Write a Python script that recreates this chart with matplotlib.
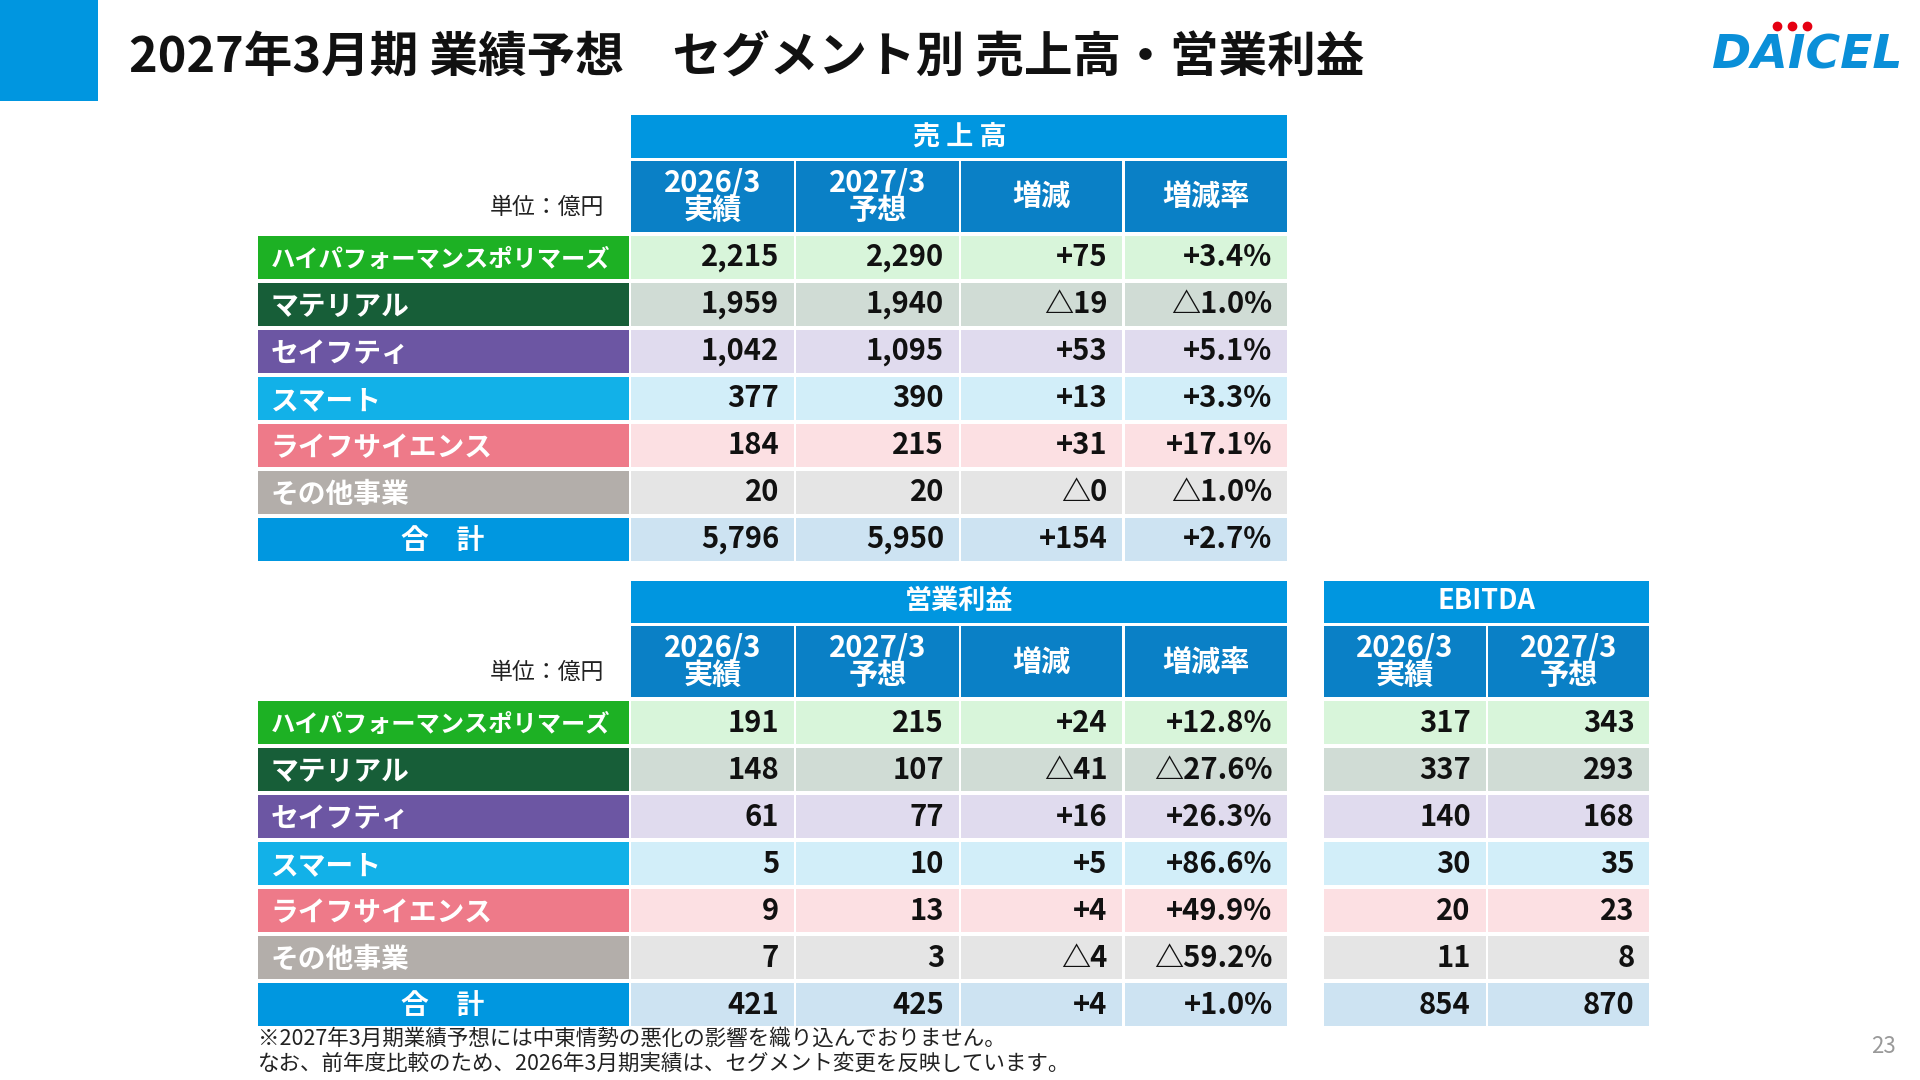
import matplotlib
matplotlib.use('Agg')
import matplotlib.pyplot as plt
from matplotlib.patches import Rectangle

plt.rcParams['font.family'] = ['Noto Sans CJK JP', 'DejaVu Sans']

# data
segments = ['ハイパフォーマンスポリマーズ', 'マテリアル', 'セイフティ', 'スマート',
            'ライフサイエンス', 'その他事業', '合　計']
sales_prev = ['2,215', '1,959', '1,042', '377', '184', '20', '5,796']
sales_fcst = ['2,290', '1,940', '1,095', '390', '215', '20', '5,950']
sales_diff = ['+75', '△19', '+53', '+13', '+31', '△0', '+154']
sales_rate = ['+3.4%', '△1.0%', '+5.1%', '+3.3%', '+17.1%', '△1.0%', '+2.7%']
op_prev = ['191', '148', '61', '5', '9', '7', '421']
op_fcst = ['215', '107', '77', '10', '13', '3', '425']
op_diff = ['+24', '△41', '+16', '+5', '+4', '△4', '+4']
op_rate = ['+12.8%', '△27.6%', '+26.3%', '+86.6%', '+49.9%', '△59.2%', '+1.0%']
ebitda_prev = ['317', '337', '140', '30', '20', '11', '854']
ebitda_fcst = ['343', '293', '168', '35', '23', '8', '870']

label_colors = ['#1db124', '#175e38', '#6c56a3', '#12b1e8', '#ee7a89', '#b3aeaa', '#0097e0']
cell_colors = ['#d8f5da', '#d0dcd5', '#e0dbee', '#d2eef9', '#fce0e3', '#e5e5e5', '#cde3f2']
HDR = '#0096e0'
SUB = '#0a80c6'

W, H = 1560, 880
fig = plt.figure(figsize=(19.2, 10.8), dpi=100)
ax = fig.add_axes([0, 0, 1, 1])
ax.set_xlim(0, W)
ax.set_ylim(H, 0)
ax.axis('off')


def box(x0, x1, y0, y1, color):
    ax.add_patch(Rectangle((x0, y0), x1 - x0, y1 - y0, color=color, lw=0))


# title bar
box(0, 80, 0, 82, HDR)
ax.text(105, 47, '2027年3月期 業績予想　セグメント別 売上高・営業利益',
        fontsize=35, fontweight='bold', va='center', color='#111111')
ax.text(1468, 46, 'DAICEL', fontsize=34, fontweight='bold', style='italic',
        color='#0a8fd8', ha='center', va='center', family='DejaVu Sans')
for dx in (-12, 0, 12):
    ax.plot(1456 + dx, 21, 'o', color='#e50012', ms=6)
ax.text(1530, 853, '23', fontsize=16, color='#999999', ha='center', va='center')

cols = [(513, 645), (647, 779), (781, 912), (914, 1046)]
ecols = [(1076, 1207), (1209, 1340)]
sub_titles = ['2026/3\n実績', '2027/3\n予想', '増減', '増減率']


def table(top, title, data, ecols_data=None):
    # header
    box(513, 1046, top, top + 35, HDR)
    ax.text(779.5, top + 17, title, color='white', fontsize=19.5,
            fontweight='bold', ha='center', va='center')
    for (a, b), t in zip(cols, sub_titles):
        box(a, b, top + 37, top + 95, SUB)
        ax.text((a + b) / 2, top + 66, t, color='white', fontsize=21,
                fontweight='bold', ha='center', va='center', linespacing=0.9)
    ax.text(491, top + 75, '単位：億円', fontsize=16.5, ha='right', va='center',
            color='#222222')
    if ecols_data is not None:
        box(1076, 1340, top, top + 35, HDR)
        ax.text(1208, top + 17, 'EBITDA', color='white', fontsize=19.5,
                fontweight='bold', ha='center', va='center')
        for (a, b), t in zip(ecols, sub_titles[:2]):
            box(a, b, top + 37, top + 95, SUB)
            ax.text((a + b) / 2, top + 66, t, color='white', fontsize=21,
                    fontweight='bold', ha='center', va='center', linespacing=0.9)
    r0 = top + 98
    for i, seg in enumerate(segments):
        y0 = r0 + i * 38.3
        y1 = y0 + 35.5
        yc = (y0 + y1) / 2
        box(210, 511, y0, y1, label_colors[i])
        if i == len(segments) - 1:
            ax.text(360, yc + 1, seg, color='white', fontsize=20,
                    fontweight='bold', ha='center', va='center')
        else:
            fs = 17.5 if i == 0 else 20
            ax.text(220, yc + 2, seg, color='white', fontsize=fs,
                    fontweight='bold', ha='left', va='center')
        for (a, b), vals in zip(cols, data):
            box(a, b, y0, y1, cell_colors[i])
            ax.text(b - 12, yc, vals[i], fontsize=21, fontweight='bold',
                    ha='right', va='center', color='#111111')
        if ecols_data is not None:
            for (a, b), vals in zip(ecols, ecols_data):
                box(a, b, y0, y1, cell_colors[i])
                ax.text(b - 12, yc, vals[i], fontsize=21, fontweight='bold',
                        ha='right', va='center', color='#111111')


table(94, '売 上 高', [sales_prev, sales_fcst, sales_diff, sales_rate])
table(473, '営業利益', [op_prev, op_fcst, op_diff, op_rate],
      [ebitda_prev, ebitda_fcst])

ax.text(210, 846, '※2027年3月期業績予想には中東情勢の悪化の影響を織り込んでおりません。',
        fontsize=15.5, va='center', color='#222222')
ax.text(210, 867, 'なお、前年度比較のため、2026年3月期実績は、セグメント変更を反映しています。',
        fontsize=15.5, va='center', color='#222222')

fig.savefig('out.png', dpi=100)
